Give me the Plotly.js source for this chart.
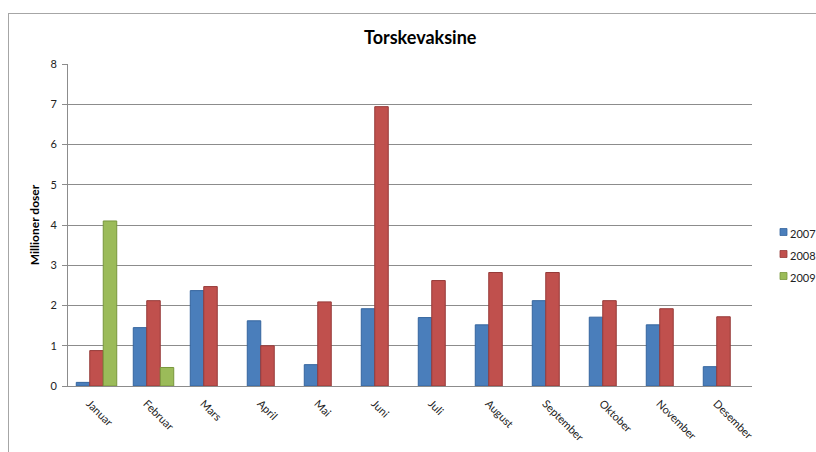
<!DOCTYPE html>
<html>
<head>
<meta charset="utf-8">
<script src="https://cdn.plot.ly/plotly-3.0.1.min.js"></script>
<style>
  html, body { margin: 0; padding: 0; background: #fff; }
  #frame { position: absolute; left: 8px; top: 13px; width: 830px; height: 460px; border: 1px solid #a6a6a6; box-sizing: border-box; }
  #chart { position: absolute; left: 0; top: 0; width: 816px; height: 452px; }
</style>
</head>
<body>
<div id="frame"></div>
<div id="chart"></div>
<script>
const months = ["Januar", "Februar", "Mars", "April", "Mai", "Juni", "Juli", "August", "September", "Oktober", "November", "Desember"];
const series2007 = [0.09, 1.45, 2.37, 1.62, 0.53, 1.92, 1.70, 1.52, 2.12, 1.71, 1.52, 0.48];
const series2008 = [0.88, 2.12, 2.47, 1.00, 2.09, 6.94, 2.62, 2.82, 2.82, 2.12, 1.92, 1.72];
const series2009 = [4.10, 0.46, null, null, null, null, null, null, null, null, null, null];
const seriesNames = ["2007", "2008", "2009"];
const yTicks = [0, 1, 2, 3, 4, 5, 6, 7, 8];

const fills = ["#4a7ebb", "#c0504d", "#9bbb59"];
const edges = ["#35659e", "#963a38", "#78973c"];
const allSeries = [series2007, series2008, series2009];

const traces = allSeries.map((vals, i) => ({
  type: "bar",
  name: seriesNames[i],
  x: months,
  y: vals,
  marker: { color: fills[i], line: { color: edges[i], width: 1 } },
  hoverinfo: "x+y+name"
}));

// plot-area geometry (pixels) for placing the custom legend
const W = 816, H = 452;
const M = { l: 68, r: 64, t: 64, b: 66 };
const pw = W - M.l - M.r, ph = H - M.t - M.b;
const px = v => (v - M.l) / pw;
const py = v => (H - M.b - v) / ph;

const shapes = [];
const annotations = [];
seriesNames.forEach((nm, i) => {
  const cy = 232 + i * 22;
  shapes.push({
    type: "rect", xref: "paper", yref: "paper",
    x0: px(780), x1: px(787), y0: py(cy + 3.5), y1: py(cy - 3.5),
    fillcolor: fills[i], line: { color: edges[i], width: 0.8 }
  });
  annotations.push({
    xref: "paper", yref: "paper", x: px(788), y: py(cy + 1),
    xanchor: "left", yanchor: "middle", showarrow: false,
    text: nm, font: { size: 11, color: "#222" }
  });
});

const layout = {
  width: W,
  height: H,
  margin: M,
  paper_bgcolor: "rgba(0,0,0,0)",
  plot_bgcolor: "rgba(0,0,0,0)",
  font: { family: "Lato, 'Open Sans', sans-serif", size: 11, color: "#222" },
  barmode: "group",
  bargap: 0.29,
  bargroupgap: 0,
  title: {
    text: "<b>Torskevaksine</b>",
    font: { size: 18, color: "#000" },
    x: 0.515, xref: "container", xanchor: "center",
    y: 1 - 38 / H, yref: "container", yanchor: "middle"
  },
  xaxis: {
    type: "category",
    tickangle: 45,
    tickfont: { size: 11, color: "#222" },
    ticklabelshift: -7,
    ticklabelstandoff: 2,
    showline: true,
    linecolor: "#8c8c8c",
    linewidth: 1,
    ticks: "outside",
    ticklen: 4,
    tickcolor: "rgba(0,0,0,0)",
    showgrid: false,
    automargin: false
  },
  yaxis: {
    range: [0, 8],
    tickvals: yTicks,
    ticktext: yTicks.map(String),
    showgrid: true,
    gridcolor: "#8c8c8c",
    gridwidth: 1,
    showline: true,
    linecolor: "#8c8c8c",
    linewidth: 1,
    zeroline: false,
    ticks: "outside",
    ticklen: 5,
    tickcolor: "#8c8c8c",
    ticklabelstandoff: 3,
    tickfont: { size: 11, color: "#222" },
    title: { text: "<b>Millioner doser</b>", font: { size: 12, color: "#000" }, standoff: 8 },
    automargin: false
  },
  shapes: shapes,
  annotations: annotations,
  showlegend: false
};

Plotly.newPlot("chart", traces, layout, { displayModeBar: false, staticPlot: true });
</script>
</body>
</html>
